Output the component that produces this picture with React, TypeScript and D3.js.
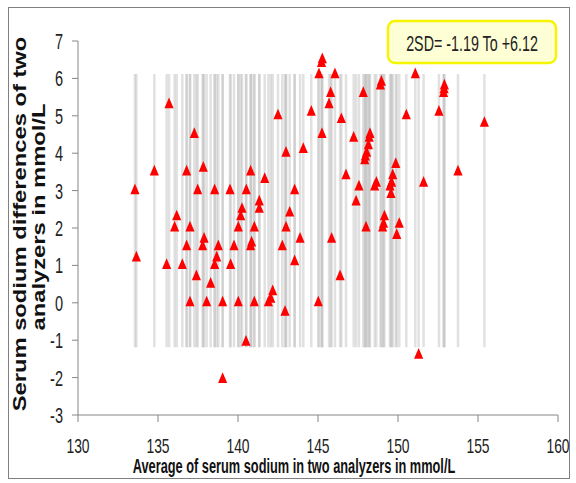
import React from "react";
import * as d3 from "d3";

// Average of serum sodium (x) and difference (y)
const avgValues: number[] = [
  133.56, 133.65, 134.77, 135.54, 135.69, 136.04, 136.17, 136.52, 136.79, 136.79,
  137.0, 137.0, 137.27, 137.4, 137.48, 137.79, 137.83, 137.88, 138.04, 138.29,
  138.54, 138.54, 138.67, 138.77, 139.04, 139.04, 139.5, 139.54, 139.75, 140.02,
  140.02, 140.17, 140.25, 140.5, 140.52, 140.79, 140.79, 140.85, 141.02, 141.02,
  141.33, 141.33, 141.67, 141.9, 142.05, 142.17, 142.5, 142.77, 142.94, 143.0,
  143.0, 143.23, 143.54, 143.54, 143.88, 144.08, 144.58, 145.02, 145.06, 145.25,
  145.27, 145.22, 145.69, 145.79, 145.85, 146.06, 146.38, 146.46, 146.75, 147.23,
  147.38, 147.56, 147.83, 147.96, 147.92, 148.0, 148.04, 148.15, 148.2, 148.25,
  148.54, 148.65, 148.9, 148.96, 149.04, 149.1, 149.15, 149.5, 149.56, 149.6,
  149.67, 149.86, 149.92, 150.08, 150.52, 151.08, 151.29, 151.6, 152.56, 152.85,
  152.9, 152.88, 153.75, 155.4,
];
const diffValues: number[] = [
  3.0, 1.2, 3.5, 1.0, 5.3, 2.0, 2.3, 1.0, 3.5, 1.5,
  2.0, 0.0, 4.5, 0.7, 3.0, 1.5, 3.6, 1.7, 0.0, 0.5,
  3.0, 1.0, 1.2, 1.5, 0.0, -2.05, 3.0, 1.0, 1.5, 2.0,
  0.0, 2.3, 2.5, -1.05, 3.0, 3.5, 1.5, 1.6, 2.0, 0.0,
  2.7, 2.5, 3.3, 0.0, 0.1, 0.3, 5.0, 1.5, -0.25, 4.0,
  2.0, 2.4, 3.0, 1.1, 1.7, 4.1, 5.1, 0.0, 6.1, 4.5,
  6.5, 6.4, 5.3, 5.6, 1.7, 6.1, 0.7, 4.9, 3.4, 4.4,
  2.7, 3.1, 5.6, 3.9, 3.8, 2.0, 4.0, 4.2, 4.4, 4.5,
  3.1, 3.2, 5.8, 5.9, 2.0, 2.1, 2.3, 3.1, 2.9, 3.2,
  3.4, 3.7, 1.8, 2.1, 5.0, 6.1, -1.4, 3.2, 5.1, 5.6,
  5.8, 5.7, 3.5, 4.8,
];
const xTicks: number[] = [130, 135, 140, 145, 150, 155, 160];
const yTicks: number[] = [-3, -2, -1, 0, 1, 2, 3, 4, 5, 6, 7];
const sdLow = -1.19;
const sdHigh = 6.12;
const boxText = "2SD= -1.19 To +6.12";
const xTitle = "Average of serum sodium in two analyzers in mmol/L";
const yTitle1 = "Serum sodium differences of two";
const yTitle2 = "analyzers in mmol/L";

export default function App() {
  const W = 576;
  const H = 483;
  const x = d3.scaleLinear().domain([130, 160]).range([78, 558]);
  const y = d3.scaleLinear().domain([-3, 7]).range([415, 41]);
  const tri = d3.symbol().type(d3.symbolTriangle).size(50)() as string;
  const axisColor = "#868686";
  const font = "'Liberation Sans', Arial, sans-serif";
  const points = avgValues.map((a, i) => ({ a, d: diffValues[i] }));

  return (
    <svg
      width={W}
      height={H}
      style={{ position: "absolute", left: 0, top: 0, background: "#fff" }}
    >
      <rect x={8.5} y={7.5} width={561} height={471} fill="#fff" stroke="#808080" strokeWidth={1} />

      {/* 2SD vertical lines */}
      <g>
        {points.map((p, i) => (
          <line
            key={"l" + i}
            x1={x(p.a)}
            x2={x(p.a)}
            y1={y(sdHigh)}
            y2={y(sdLow)}
            stroke="#bdbdbd"
            strokeOpacity={0.45}
            strokeWidth={2.5}
          />
        ))}
      </g>

      {/* axes */}
      <line x1={x(130)} x2={x(130)} y1={y(7)} y2={y(-3)} stroke={axisColor} strokeWidth={1} />
      <line x1={x(130)} x2={x(160)} y1={y(-3)} y2={y(-3)} stroke={axisColor} strokeWidth={1} />
      {yTicks.map((t) => (
        <g key={"yt" + t}>
          <line x1={x(130) - 6} x2={x(130)} y1={y(t)} y2={y(t)} stroke={axisColor} />
          <text
            transform={`translate(63,${y(t) + 8}) scale(0.66,1)`}
            textAnchor="end"
            fontSize={22}
            fontFamily={font}
            fill="#222"
          >
            {t}
          </text>
        </g>
      ))}
      {xTicks.map((t) => (
        <g key={"xt" + t}>
          <line x1={x(t)} x2={x(t)} y1={y(-3)} y2={y(-3) + 7} stroke={axisColor} />
          <text
            transform={`translate(${x(t)},453) scale(0.66,1)`}
            textAnchor="middle"
            fontSize={21}
            fontFamily={font}
            fill="#222"
          >
            {t}
          </text>
        </g>
      ))}

      {/* points */}
      <g>
        {points.map((p, i) => (
          <path
            key={"p" + i}
            d={tri}
            transform={`translate(${x(p.a)},${y(p.d)}) scale(0.85,1.15)`}
            fill="#ff0000"
          />
        ))}
      </g>

      {/* titles */}
      <text
        transform="translate(294,473) scale(0.71,1.1)"
        textAnchor="middle"
        fontSize={18}
        fontWeight="bold"
        fontFamily={font}
        fill="#111"
      >
        {xTitle}
      </text>
      <text
        transform="translate(26,224) rotate(-90) scale(1.25,1)"
        textAnchor="middle"
        fontSize={19}
        fontWeight="bold"
        fontFamily={font}
        fill="#111"
      >
        {yTitle1}
      </text>
      <text
        transform="translate(45,217) rotate(-90) scale(1.25,1)"
        textAnchor="middle"
        fontSize={19}
        fontWeight="bold"
        fontFamily={font}
        fill="#111"
      >
        {yTitle2}
      </text>

      {/* SD box */}
      <rect x={388} y={21} width={168} height={42} rx={7} fill="#ffffd6" stroke="#f5f500" strokeWidth={2.5} />
      <text
        transform="translate(472,51) scale(0.65,1)"
        textAnchor="middle"
        fontSize={22}
        fontFamily={font}
        fill="#222"
      >
        {boxText}
      </text>
    </svg>
  );
}
